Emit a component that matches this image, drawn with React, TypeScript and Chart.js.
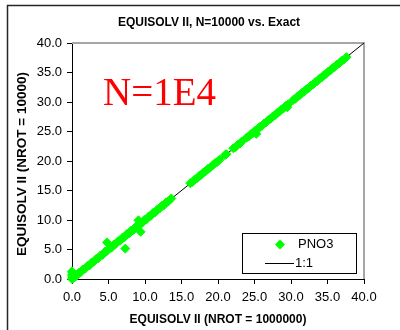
import { useEffect, useRef } from "react";
import { Chart, registerables } from "chart.js";

Chart.register(...registerables);

const chartTitle = "EQUISOLV II, N=10000 vs. Exact";
const xAxisTitle = "EQUISOLV II (NROT = 1000000)";
const yAxisTitle = "EQUISOLV II (NROT = 10000)";
const runLabel = "N=1E4";
const seriesLabel = "PNO3";
const refLabel = "1:1";

// axis range and tick spacing (both axes)
const axisMin = 0;
const axisMax = 40;
const axisStep = 5;

// PNO3 from the NROT = 1000000 run (x)
const pno3Exact = [
  0.0, 0.02, 0.0, 0.03, 0.0, 0.15, 0.3, 0.25, 0.45,
  0.6, 0.9, 1.2, 1.5, 1.8, 2.1, 2.4, 2.7, 3.0, 3.3, 3.6, 3.9, 4.2, 4.5, 4.8, 4.8,
  5.1, 5.4, 5.7, 6.0, 6.3, 6.6, 6.9, 7.2, 7.3, 7.5, 7.8, 8.1, 8.4, 8.7, 9.0, 9.1,
  9.3, 9.4, 9.6, 9.9, 10.2, 10.5, 10.8, 11.1, 11.4, 11.7, 12.0, 12.3, 12.6, 12.9,
  13.2, 13.6,
  16.2, 16.5, 16.8, 17.1, 17.4, 17.7, 18.0, 18.3, 18.6, 18.9, 19.3, 19.6, 19.9, 20.2,
  20.95, 21.15,
  22.1, 22.4, 22.7, 23.0, 23.25,
  23.9, 24.2, 24.5, 24.8, 25.1, 25.25, 25.4, 25.7, 26.0, 26.3, 26.6, 26.9, 27.2,
  27.5, 27.8, 28.1, 28.4, 28.7, 29.0, 29.3, 29.5, 29.6,
  30.3, 30.6, 30.9, 31.2, 31.5, 31.8, 32.1, 32.4, 32.7, 33.0, 33.3, 33.6, 33.9,
  34.2, 34.5, 34.8, 35.1, 35.4, 35.7, 36.0, 36.3, 36.6, 36.9, 37.2, 37.6,
];

// PNO3 from the NROT = 10000 run (y)
const pno3Nrot = [
  0.0, 0.35, 0.7, 1.05, 1.3, 0.1, 0.25, 0.55, 0.4,
  0.55, 1.0, 1.15, 1.6, 1.75, 2.2, 2.3, 2.8, 2.95, 3.4, 3.5, 4.0, 4.1, 4.6, 4.75, 6.2,
  5.2, 5.3, 5.8, 5.95, 6.4, 6.5, 7.0, 7.1, 5.15, 7.6, 7.7, 8.2, 8.3, 8.8, 8.95, 9.95,
  9.4, 8.0, 9.5, 10.0, 10.1, 10.6, 10.7, 11.2, 11.3, 11.8, 11.95, 12.4, 12.5, 13.0,
  13.15, 13.65,
  16.25, 16.45, 16.85, 17.05, 17.45, 17.65, 18.05, 18.25, 18.65, 18.85, 19.3, 19.65, 19.85, 20.2,
  21.0, 21.15,
  22.15, 22.35, 22.75, 22.95, 23.3,
  23.95, 24.15, 24.55, 24.75, 25.15, 24.6, 25.35, 25.75, 25.95, 26.35, 26.55, 26.95, 27.15,
  27.55, 27.75, 28.15, 28.35, 28.75, 28.95, 29.35, 29.1, 29.6,
  30.35, 30.55, 30.95, 31.15, 31.55, 31.75, 32.15, 32.35, 32.75, 32.95, 33.35, 33.55, 33.95,
  34.15, 34.55, 34.75, 35.15, 35.35, 35.75, 35.95, 36.35, 36.55, 36.95, 37.15, 37.6,
];

// endpoints of the 1:1 reference line
const oneToOneX = [0, 40];
const oneToOneY = [0, 40];

const SANS = "'Liberation Sans', Arial, sans-serif";
const SERIF = "'Liberation Serif', 'Times New Roman', serif";
const GREEN = "#00ff00";

function diamond(ctx: CanvasRenderingContext2D, x: number, y: number, r: number) {
  ctx.beginPath();
  ctx.moveTo(x - r, y);
  ctx.lineTo(x, y - r);
  ctx.lineTo(x + r, y);
  ctx.lineTo(x, y + r);
  ctx.closePath();
  ctx.fill();
}

const plotFrame = {
  id: "plotFrame",
  beforeDatasetsDraw(chart: any) {
    const { ctx, chartArea: a } = chart;
    ctx.save();
    ctx.strokeStyle = "#a6a6a6";
    ctx.lineWidth = 2;
    ctx.beginPath();
    ctx.moveTo(a.left, a.top);
    ctx.lineTo(a.right, a.top);
    ctx.lineTo(a.right, a.bottom);
    ctx.stroke();
    ctx.restore();
  },
  afterDraw(chart: any) {
    const { ctx } = chart;
    const ds = chart.data.datasets;
    ctx.save();

    // outer chart border
    ctx.strokeStyle = "#262626";
    ctx.lineWidth = 1.5;
    ctx.beginPath();
    ctx.moveTo(7.5, 331);
    ctx.lineTo(7.5, 5.5);
    ctx.lineTo(401, 5.5);
    ctx.stroke();

    ctx.fillStyle = "#000";
    ctx.textBaseline = "middle";
    ctx.textAlign = "center";
    ctx.font = `bold 12px ${SANS}`;
    ctx.fillText(chartTitle, 209, 23);
    ctx.fillText(xAxisTitle, 218, 320);

    ctx.save();
    ctx.translate(22, 164);
    ctx.rotate(-Math.PI / 2);
    ctx.font = `bold 13.5px ${SANS}`;
    ctx.fillText(yAxisTitle, 0, 0);
    ctx.restore();

    // run annotation
    ctx.fillStyle = "#ff0000";
    ctx.font = `39px ${SERIF}`;
    ctx.textAlign = "left";
    ctx.textBaseline = "alphabetic";
    ctx.fillText(runLabel, 103, 105);

    // legend box
    ctx.fillStyle = "#fff";
    ctx.fillRect(242.5, 233.5, 114, 40);
    ctx.strokeStyle = "#000";
    ctx.lineWidth = 1;
    ctx.strokeRect(242.5, 233.5, 114, 40);

    ctx.fillStyle = GREEN;
    diamond(ctx, 280, 244.5, 5);
    ctx.strokeStyle = "#000";
    ctx.beginPath();
    ctx.moveTo(265, 263.5);
    ctx.lineTo(294, 263.5);
    ctx.stroke();

    ctx.fillStyle = "#000";
    ctx.font = `13px ${SANS}`;
    ctx.textBaseline = "middle";
    ctx.fillText(ds[0].label, 298, 244.5);
    ctx.fillText(ds[1].label, 295, 263.5);
    ctx.restore();
  },
};

const tickFont = { family: SANS, size: 13 };

export default function App() {
  const ref = useRef<HTMLCanvasElement>(null);

  useEffect(() => {
    const canvas = ref.current;
    if (!canvas) return;
    const chart = new Chart(canvas, {
      type: "scatter",
      data: {
        datasets: [
          {
            label: seriesLabel,
            data: pno3Exact.map((x, i) => ({ x, y: pno3Nrot[i] })),
            pointStyle: "rectRot",
            pointRadius: 4.5,
            pointBorderWidth: 1,
            backgroundColor: GREEN,
            borderColor: GREEN,
            clip: false,
          },
          {
            label: refLabel,
            data: oneToOneX.map((x, i) => ({ x, y: oneToOneY[i] })),
            showLine: true,
            borderColor: "#000",
            borderWidth: 1,
            pointRadius: 0,
            clip: false,
          },
        ],
      },
      options: {
        animation: false,
        responsive: false,
        devicePixelRatio: 1,
        layout: { padding: { left: 0, top: 43, right: 36, bottom: 0 } },
        plugins: {
          legend: { display: false },
          title: { display: false },
          tooltip: { enabled: false },
        },
        scales: {
          x: {
            type: "linear",
            min: axisMin,
            max: axisMax,
            ticks: {
              stepSize: axisStep,
              callback: (v: any) => Number(v).toFixed(1),
              color: "#000",
              font: tickFont,
              padding: 6,
              maxRotation: 0,
              autoSkip: false,
            },
            grid: { drawOnChartArea: false, tickLength: 5, color: "#000" },
            border: { color: "#000", width: 1 },
            afterFit: (s: any) => {
              s.height = 51;
            },
          },
          y: {
            type: "linear",
            min: axisMin,
            max: axisMax,
            ticks: {
              stepSize: axisStep,
              callback: (v: any) => Number(v).toFixed(1),
              color: "#000",
              font: tickFont,
              padding: 5,
              autoSkip: false,
            },
            grid: { drawOnChartArea: false, tickLength: 5, color: "#000" },
            border: { color: "#000", width: 1 },
            afterFit: (s: any) => {
              s.width = 72;
            },
          },
        },
      },
      plugins: [plotFrame],
    } as any);
    return () => chart.destroy();
  }, []);

  return (
    <div style={{ position: "absolute", left: 0, top: 0, width: 400, height: 330, background: "#fff" }}>
      <canvas ref={ref} width={400} height={330} style={{ display: "block", width: 400, height: 330 }} />
    </div>
  );
}
